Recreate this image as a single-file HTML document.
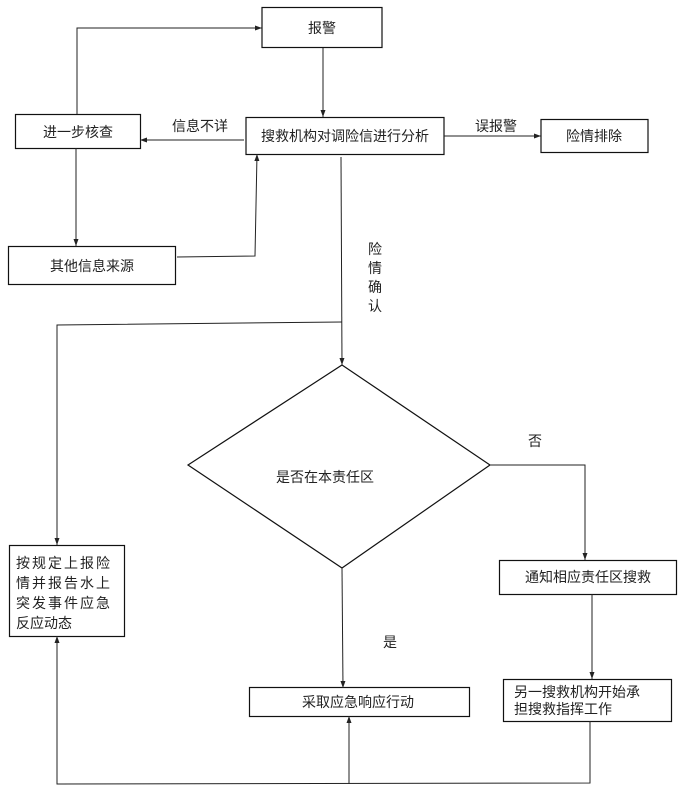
<!DOCTYPE html>
<html><head><meta charset="utf-8"><style>
html,body{margin:0;padding:0;background:#fff}
svg text{font-family:"Liberation Sans","Noto Sans CJK SC",sans-serif;font-size:14px;fill:#222}
</style></head><body>
<svg width="680" height="790" viewBox="0 0 680 790" xmlns="http://www.w3.org/2000/svg">
<defs><marker id="a" markerWidth="8" markerHeight="8" refX="7" refY="4" orient="auto" markerUnits="userSpaceOnUse"><path d="M0,1.5 L7,4 L0,6.5 z" fill="#222"/></marker></defs>
<g fill="none" stroke="#111" stroke-width="1.2">
<rect x="262" y="7.5" width="120" height="40"/>
<rect x="246" y="117.5" width="198" height="37"/>
<rect x="15.5" y="114.5" width="125" height="34"/>
<rect x="541" y="119.5" width="107" height="33"/>
<rect x="8.5" y="246.5" width="167" height="38"/>
<rect x="9.5" y="545.5" width="115" height="91"/>
<rect x="499.5" y="560.5" width="177" height="34"/>
<rect x="503.5" y="679.5" width="168" height="42"/>
<rect x="249.5" y="687.5" width="220" height="29"/>
<polygon points="342,365 490,465 342,568 188,465"/>
</g>
<g fill="none" stroke="#222" stroke-width="1">
<path d="M77,114 L77,28 L262,28" marker-end="url(#a)"/>
<path d="M323,48 L323,117" marker-end="url(#a)"/>
<path d="M244,140 L140,140" marker-end="url(#a)"/>
<path d="M76,148 L76,246" marker-end="url(#a)"/>
<path d="M177,257 L255,256 L257,154" marker-end="url(#a)"/>
<path d="M444,136 L541,136" marker-end="url(#a)"/>
<path d="M341,157 L342,365" marker-end="url(#a)"/>
<path d="M342,322 L57,325 L57,545" marker-end="url(#a)"/>
<path d="M490,465 L585,465 L585,560" marker-end="url(#a)"/>
<path d="M592,594 L592,679" marker-end="url(#a)"/>
<path d="M342,568 L343,688" marker-end="url(#a)"/>
<path d="M590,721 L590,783 L57,784 L57,636" marker-end="url(#a)"/>
<path d="M349,784 L349,716" marker-end="url(#a)"/>
</g>
<text x="322" y="33" text-anchor="middle">报警</text>
<text x="345" y="141" text-anchor="middle">搜救机构对调险信进行分析</text>
<text x="78" y="137" text-anchor="middle">进一步核查</text>
<text x="594" y="141" text-anchor="middle">险情排除</text>
<text x="92" y="271" text-anchor="middle">其他信息来源</text>
<text x="200" y="131" text-anchor="middle">信息不详</text>
<text x="496" y="131" text-anchor="middle">误报警</text>
<text x="375" y="254" text-anchor="middle">险</text>
<text x="375" y="273" text-anchor="middle">情</text>
<text x="375" y="292" text-anchor="middle">确</text>
<text x="375" y="311" text-anchor="middle">认</text>
<text x="325" y="482" text-anchor="middle">是否在本责任区</text>
<text x="535" y="446" text-anchor="middle">否</text>
<text x="390" y="647" text-anchor="middle">是</text>
<text x="16" y="568" letter-spacing="2">按规定上报险</text>
<text x="16" y="588" letter-spacing="2">情并报告水上</text>
<text x="16" y="608" letter-spacing="2">突发事件应急</text>
<text x="16" y="628">反应动态</text>
<text x="588" y="582" text-anchor="middle">通知相应责任区搜救</text>
<text x="514" y="697">另一搜救机构开始承</text>
<text x="514" y="714">担搜救指挥工作</text>
<text x="358" y="707" text-anchor="middle">采取应急响应行动</text>
</svg>
</body></html>
